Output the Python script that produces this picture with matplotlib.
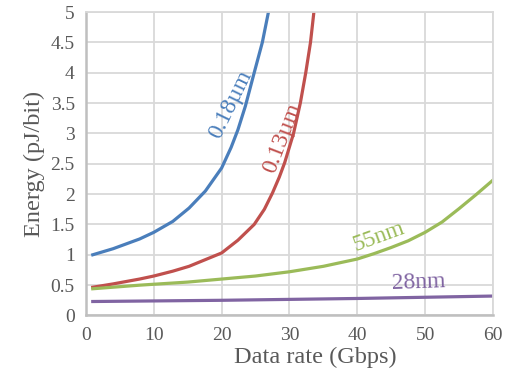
import numpy as np
import matplotlib
matplotlib.use('Agg')
import matplotlib.pyplot as plt

plt.rcParams['font.family'] = ['Liberation Serif', 'DejaVu Serif']

# values
x_018 = [1, 4, 7.9, 10, 12.8, 15.2, 17.6, 20, 21.4, 22.4, 23.5, 24.8, 26.0, 26.9]
y_018 = [1.0, 1.1, 1.26, 1.37, 1.55, 1.77, 2.05, 2.43, 2.77, 3.06, 3.45, 4.0, 4.5, 5.0]

x_013 = [1, 4, 7.9, 10, 12.8, 15.2, 17.6, 20, 22.4, 24.8, 26.3, 27.5, 28.5, 29.3,
         30.6, 31.6, 32.4, 33.1, 33.6]
y_013 = [0.465, 0.52, 0.6, 0.65, 0.73, 0.81, 0.92, 1.03, 1.24, 1.5, 1.75, 2.02, 2.28, 2.52,
         3.0, 3.5, 4.0, 4.5, 5.0]

x_55 = [1, 8, 15, 20, 25, 30, 35, 40, 42.5, 45, 47.5, 50, 52.5, 55, 57.5, 60]
y_55 = [0.44, 0.5, 0.55, 0.6, 0.65, 0.72, 0.81, 0.93, 1.02, 1.12, 1.23, 1.37, 1.54, 1.76, 1.99, 2.23]

x_28 = [1, 20, 40, 60]
y_28 = [0.23, 0.25, 0.28, 0.32]

xticks = [0, 10, 20, 30, 40, 50, 60]
yticks = [0, 0.5, 1, 1.5, 2, 2.5, 3, 3.5, 4, 4.5, 5]
ytick_labels = ['0', '0.5', '1', '1.5', '2', '2.5', '3', '3.5', '4', '4.5', '5']

c_blue = '#4a7ebb'
c_red = '#c0504d'
c_green = '#9bbb59'
c_purple = '#8064a2'
c_text = '#595959'

fig = plt.figure(figsize=(5.1, 3.81), dpi=100)
ax = fig.add_axes([0.1686, 0.172, 0.798, 0.7965])

ax.plot(x_018, y_018, color=c_blue, linewidth=2.3, solid_joinstyle='round')
ax.plot(x_013, y_013, color=c_red, linewidth=2.3, solid_joinstyle='round')
ax.plot(x_55, y_55, color=c_green, linewidth=2.3, solid_joinstyle='round')
ax.plot(x_28, y_28, color=c_purple, linewidth=2.3, solid_joinstyle='round')

# curve labels
ax.text(21.4, 3.47, '0.18µm', color=c_blue, fontsize=17, rotation=64, ha='center', va='center')
ax.text(28.9, 2.93, '0.13µm', color=c_red, fontsize=17, rotation=69, ha='center', va='center')
ax.text(43.2, 1.3, '55nm', color=c_green, fontsize=17, rotation=20, ha='center', va='center')
ax.text(49.0, 0.55, '28nm', color=c_purple, fontsize=17, rotation=2, ha='center', va='center')

ax.set_xlim(0, 60)
ax.set_ylim(0, 5)
ax.set_xticks(xticks)
ax.set_yticks(yticks)
ax.set_yticklabels(ytick_labels)
ax.tick_params(axis='both', length=0, labelsize=14, colors=c_text)
ax.tick_params(axis='x', pad=8)
ax.tick_params(axis='y', pad=8)

ax.grid(True, color='#d9d9d9', linewidth=1.3)
ax.set_axisbelow(True)
for side in ['top', 'right']:
    ax.spines[side].set_color('#d9d9d9')
    ax.spines[side].set_linewidth(1.3)
for side in ['left', 'bottom']:
    ax.spines[side].set_color('#bfbfbf')
    ax.spines[side].set_linewidth(1.8)

ax.set_xlabel('Data rate (Gbps)', fontsize=17.5, color=c_text, labelpad=2)
ax.xaxis.label.set_x(0.563)
ax.set_ylabel('Energy (pJ/bit)', fontsize=17.5, color=c_text, labelpad=4)

plt.savefig('out.png', dpi=100)
